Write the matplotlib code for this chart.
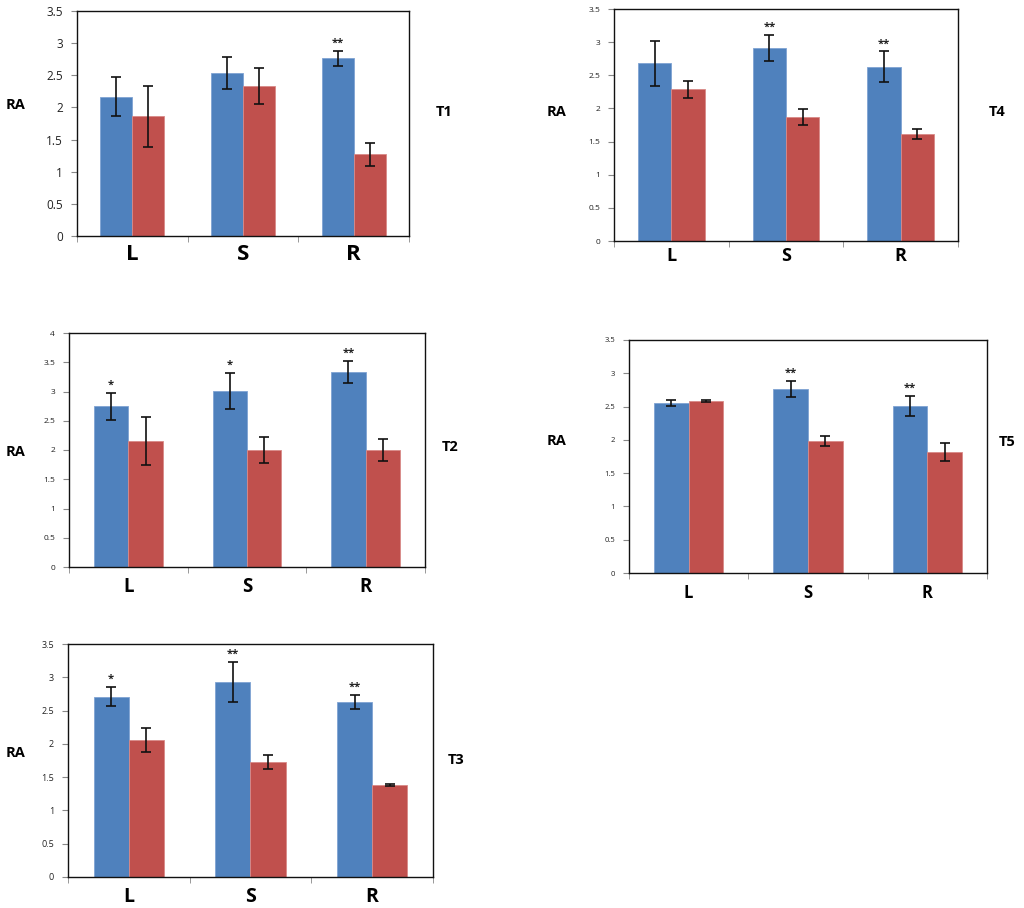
import matplotlib
matplotlib.use('Agg')
import matplotlib.pyplot as plt
import numpy as np

plt.rcParams['font.family'] = ['Open Sans', 'DejaVu Sans']

categories = ['L', 'S', 'R']

# T1
t1_blue = [2.17, 2.53, 2.765]
t1_blue_err = [0.31, 0.25, 0.12]
t1_red = [1.86, 2.335, 1.27]
t1_red_err = [0.47, 0.28, 0.18]
t1_stars = ['', '', '**']

# T4
t4_blue = [2.68, 2.91, 2.63]
t4_blue_err = [0.34, 0.20, 0.23]
t4_red = [2.29, 1.876, 1.62]
t4_red_err = [0.13, 0.12, 0.075]
t4_stars = ['', '**', '**']

# T2
t2_blue = [2.75, 3.01, 3.33]
t2_blue_err = [0.23, 0.31, 0.19]
t2_red = [2.15, 2.0, 2.0]
t2_red_err = [0.41, 0.22, 0.19]
t2_stars = ['*', '*', '**']

# T5
t5_blue = [2.55, 2.77, 2.51]
t5_blue_err = [0.045, 0.12, 0.15]
t5_red = [2.58, 1.985, 1.815]
t5_red_err = [0.015, 0.08, 0.14]
t5_stars = ['', '**', '**']

# T3
t3_blue = [2.71, 2.935, 2.635]
t3_blue_err = [0.145, 0.30, 0.105]
t3_red = [2.06, 1.725, 1.385]
t3_red_err = [0.18, 0.11, 0.015]
t3_stars = ['*', '**', '**']

BLUE = '#4F81BD'
RED = '#C0504D'

W, H = 1024, 908
fig = plt.figure(figsize=(W / 100, H / 100), dpi=100)


def px_rect(left, top, right, bottom):
    return [left / W, 1 - bottom / H, (right - left) / W, (bottom - top) / H]


panels = [
    dict(name='T1', rect=px_rect(77, 11, 409, 236), ymax=3.5, blue=t1_blue, berr=t1_blue_err,
         red=t1_red, rerr=t1_red_err, stars=t1_stars, ytfs=8.5, xtfs=16, xpad=6,
         ra=(6, 105), tl=(436, 112)),
    dict(name='T4', rect=px_rect(614, 9, 958, 241), ymax=3.5, blue=t4_blue, berr=t4_blue_err,
         red=t4_red, rerr=t4_red_err, stars=t4_stars, ytfs=6, xtfs=13, xpad=4,
         ra=(547, 112), tl=(989, 112)),
    dict(name='T2', rect=px_rect(69, 333, 425, 567), ymax=4.0, blue=t2_blue, berr=t2_blue_err,
         red=t2_red, rerr=t2_red_err, stars=t2_stars, ytfs=6, xtfs=13.5, xpad=7,
         ra=(6, 452), tl=(442, 447)),
    dict(name='T5', rect=px_rect(629, 340, 987, 573), ymax=3.5, blue=t5_blue, berr=t5_blue_err,
         red=t5_red, rerr=t5_red_err, stars=t5_stars, ytfs=5.5, xtfs=12, xpad=8,
         ra=(547, 441), tl=(999, 442)),
    dict(name='T3', rect=px_rect(68, 644, 433, 877), ymax=3.5, blue=t3_blue, berr=t3_blue_err,
         red=t3_red, rerr=t3_red_err, stars=t3_stars, ytfs=6.5, xtfs=14, xpad=7,
         ra=(6, 753), tl=(448, 760)),
]

w = 0.29
for p in panels:
    ax = fig.add_axes(p['rect'])
    x = np.arange(len(categories))
    ekw = dict(ecolor='#111111', elinewidth=1.2, capthick=1.2)
    ax.bar(x - w / 2, p['blue'], w, yerr=p['berr'], color=BLUE, capsize=3.5, error_kw=ekw,
           edgecolor='#7FA3D3', linewidth=0.6)
    ax.bar(x + w / 2, p['red'], w, yerr=p['rerr'], color=RED, capsize=3.5, error_kw=ekw,
           edgecolor='#D98A88', linewidth=0.6)
    for i, s in enumerate(p['stars']):
        if s:
            ax.annotate(s, (x[i] - w / 2, p['blue'][i] + p['berr'][i]), xytext=(0, 1.5),
                        textcoords='offset points', ha='center', va='bottom',
                        fontsize=8, fontweight='bold', color='#222222')
    ax.set_xlim(-0.5, 2.5)
    ax.set_ylim(0, p['ymax'])
    yt = np.arange(0, p['ymax'] + 0.01, 0.5)
    ax.set_yticks(yt)
    ax.set_yticklabels([('%g' % v) for v in yt], fontsize=p['ytfs'], color='#222222')
    ax.set_xticks(x)
    ax.set_xticklabels(categories, fontsize=p['xtfs'], fontweight='bold')
    ax.set_xticks([-0.5, 0.5, 1.5, 2.5], minor=True)
    ax.tick_params(axis='x', which='major', length=0, pad=p['xpad'])
    ax.tick_params(axis='x', which='minor', length=4, direction='out', color='#888888')
    ax.tick_params(axis='y', length=4, direction='out', color='#888888', pad=6)
    for sp in ax.spines.values():
        sp.set_linewidth(1.0)
        sp.set_color('#111111')
    fig.text(p['ra'][0] / W, 1 - p['ra'][1] / H, 'RA', fontsize=10.5, fontweight='bold',
             ha='left', va='center')
    fig.text(p['tl'][0] / W, 1 - p['tl'][1] / H, p['name'], fontsize=10.5, fontweight='bold',
             ha='left', va='center')

fig.savefig('out.png', dpi=100, facecolor='white')
